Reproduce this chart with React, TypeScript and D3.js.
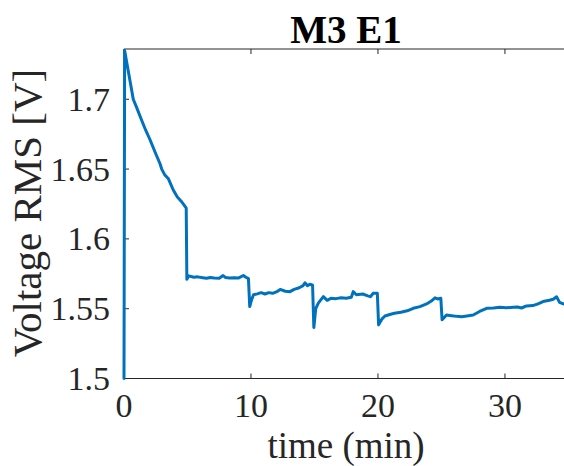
import React from "react";
import * as d3 from "d3";

const timeMin: number[] = [
  0, 0.05, 0.3, 0.73, 1.0, 1.39, 1.7, 2.05, 2.5, 2.83, 2.97, 3.2, 3.5, 3.88, 4.2, 4.5, 4.75, 4.9,
  4.95, 5.1, 5.5, 5.8, 6.2, 6.5, 6.8, 7.1, 7.5, 7.8, 8.0, 8.3, 8.7, 9.0, 9.4, 9.6, 9.8,
  9.9, 10.05, 10.2, 10.5, 10.8, 11.1, 11.4, 11.7, 12.0, 12.3, 12.7, 13.07, 13.4, 13.8, 14.1, 14.25, 14.45, 14.65, 14.85,
  14.95, 15.1, 15.3, 15.7, 16.0, 16.3, 16.7, 17.1, 17.5, 17.9, 18.05, 18.3, 18.8, 19.2, 19.4, 19.63, 19.95,
  20.05, 20.3, 20.55, 21.0, 21.3, 21.8, 22.3, 22.78, 23.3, 23.83, 24.2, 24.49, 24.7, 24.95,
  25.05, 25.4, 25.8, 26.2, 26.6, 27.0, 27.5, 28.0, 28.56, 29.1, 29.6, 30.1, 30.65, 31.0, 31.3, 31.7, 32.2, 32.6, 33.0, 33.5, 33.8, 34.07, 34.3, 34.6,
];

const voltageRms: number[] = [
  1.5, 1.735, 1.722, 1.7, 1.694, 1.685, 1.678, 1.671, 1.661, 1.654, 1.65, 1.646, 1.643, 1.635, 1.63, 1.627, 1.624, 1.622,
  1.571, 1.5735, 1.5725, 1.5728, 1.5722, 1.5718, 1.5724, 1.572, 1.5718, 1.5737, 1.5724, 1.572, 1.5722, 1.5719, 1.5738, 1.5725, 1.5715,
  1.5515, 1.5565, 1.56, 1.5606, 1.5615, 1.5605, 1.5615, 1.561, 1.562, 1.5638, 1.5625, 1.5622, 1.5638, 1.565, 1.5665, 1.5685, 1.5665, 1.5675, 1.5668,
  1.5365, 1.55, 1.554, 1.5586, 1.556, 1.5575, 1.5572, 1.5578, 1.5575, 1.5582, 1.5622, 1.56, 1.5605, 1.5592, 1.5586, 1.5611, 1.5611,
  1.5384, 1.5425, 1.5448, 1.546, 1.5467, 1.5475, 1.5485, 1.5503, 1.5515, 1.5534, 1.5555, 1.5578, 1.557, 1.5575,
  1.542, 1.5455, 1.545, 1.5445, 1.5443, 1.5448, 1.5455, 1.548, 1.5503, 1.5505, 1.551, 1.5506, 1.551, 1.5512, 1.5505, 1.552, 1.5522, 1.5535, 1.5551, 1.556, 1.5568, 1.5585, 1.5545, 1.5534,
];

const xTicks: number[] = [0, 10, 20, 30];
const yTicks: number[] = [1.5, 1.55, 1.6, 1.65, 1.7];
const yTickLabels: string[] = ["1.5", "1.55", "1.6", "1.65", "1.7"];
const titleText = "M3 E1";
const xLabel = "time (min)";
const yLabel = "Voltage RMS [V]";

const W = 564;
const H = 466;
const left = 124;
const right = 564;
const top = 49;
const bottom = 378.5;

export default function App() {
  const x = d3.scaleLinear().domain([0, 34.65]).range([left, right]);
  const y = d3.scaleLinear().domain([1.5, 1.736]).range([bottom, top]);
  const pts = timeMin.map((t, i) => [t, voltageRms[i]] as [number, number]);
  const line = d3
    .line<[number, number]>()
    .x((d) => x(d[0]))
    .y((d) => y(d[1]));
  const axisColor = "#262626";
  return (
    <svg
      width={W}
      height={H}
      style={{ position: "absolute", left: 0, top: 0, background: "#fff", display: "block" }}
    >
      <rect x={0} y={0} width={W} height={H} fill="#fff" />
      <line x1={left} x2={right} y1={top} y2={top} stroke={axisColor} strokeWidth={1} />
      <line x1={left} x2={right} y1={bottom} y2={bottom} stroke={axisColor} strokeWidth={1} />
      <line x1={left} x2={left} y1={top} y2={bottom} stroke={axisColor} strokeWidth={1} />
      {xTicks.map((t) => (
        <g key={"xt" + t}>
          <line x1={x(t)} x2={x(t)} y1={bottom} y2={bottom - 5} stroke={axisColor} strokeWidth={1} />
          <line x1={x(t)} x2={x(t)} y1={top} y2={top + 5} stroke={axisColor} strokeWidth={1} />
          <text x={x(t)} y={417} textAnchor="middle" fontFamily="serif" fontSize={34} fill={axisColor}>
            {t}
          </text>
        </g>
      ))}
      {yTicks.map((v, i) => (
        <g key={"yt" + v}>
          <line x1={left} x2={left + 5} y1={y(v)} y2={y(v)} stroke={axisColor} strokeWidth={1} />
          <text x={110} y={y(v) + 11.5} textAnchor="end" fontFamily="serif" fontSize={34} fill={axisColor}>
            {yTickLabels[i]}
          </text>
        </g>
      ))}
      <path
        d={line(pts) || ""}
        fill="none"
        stroke="#0072BD"
        strokeWidth={3}
        strokeLinejoin="round"
        strokeLinecap="round"
      />
      <text x={346} y={458} textAnchor="middle" fontFamily="serif" fontSize={37} fill={axisColor}>
        {xLabel}
      </text>
      <text
        transform={`translate(41,213) rotate(-90)`}
        textAnchor="middle"
        fontFamily="serif"
        fontSize={41}
        fill={axisColor}
      >
        {yLabel}
      </text>
      <text
        x={346}
        y={43}
        textAnchor="middle"
        fontFamily="serif"
        fontWeight="bold"
        fontSize={39}
        fill="#000"
      >
        {titleText}
      </text>
    </svg>
  );
}
